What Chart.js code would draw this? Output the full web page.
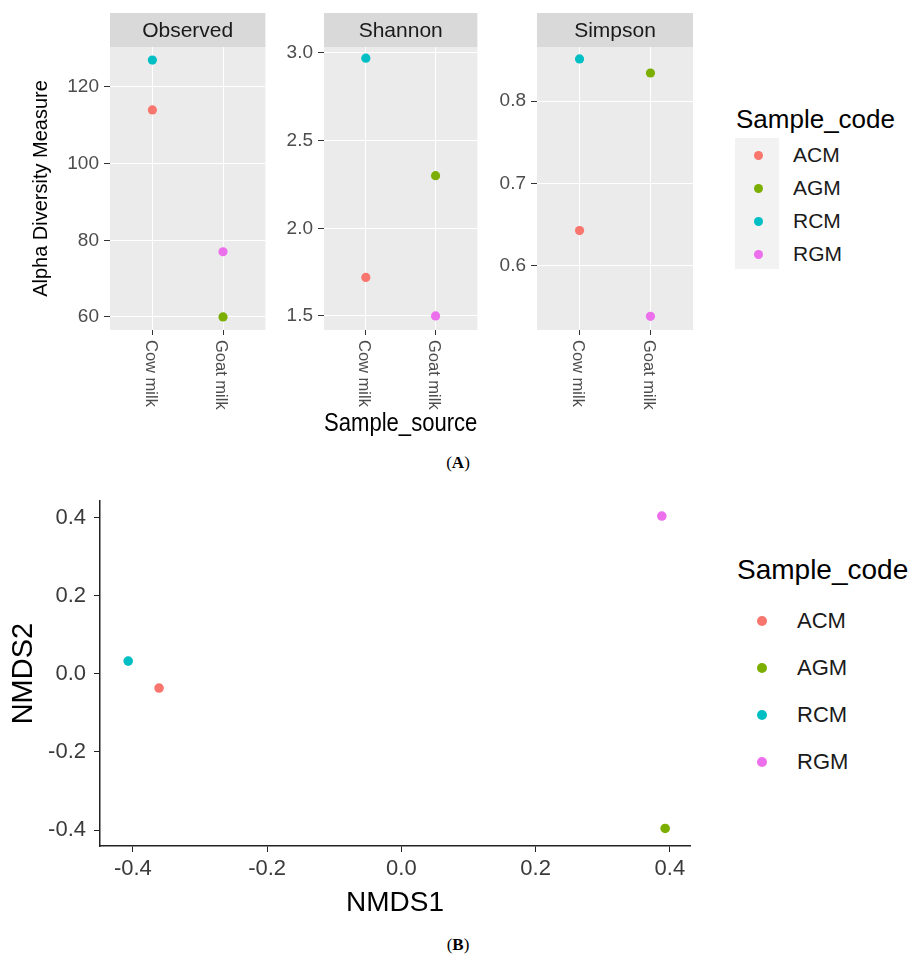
<!DOCTYPE html>
<html>
<head>
<meta charset="utf-8">
<script src="https://cdn.jsdelivr.net/npm/chart.js@4.4.1/dist/chart.umd.min.js"></script>
<style>
  body { margin: 0; background: #fff; font-family: "Liberation Sans", Arial, sans-serif; }
  #page { position: relative; width: 916px; height: 961px; overflow: hidden; }
  canvas { position: absolute; }
  .txt { position: absolute; white-space: nowrap; color: #1a1a1a; }
  .dot { position: absolute; border-radius: 50%; }
  .cap { position: absolute; font-family: "Liberation Serif", "Times New Roman", serif; font-size: 17px; color: #000; transform: translate(-50%, -50%); }
</style>
</head>
<body>
<div id="page">
  <canvas id="obsChart" width="270" height="440" style="left:0;top:0"></canvas>
  <canvas id="shaChart" width="212" height="440" style="left:270px;top:0"></canvas>
  <canvas id="simChart" width="218" height="440" style="left:482px;top:0"></canvas>
  <canvas id="nmdsChart" width="700" height="440" style="left:0;top:480px"></canvas>
  <div class="cap" style="left:458px;top:463px">(<b>A</b>)</div>
  <div class="cap" style="left:458px;top:945px">(<b>B</b>)</div>
</div>
<script>
// samples
const sampleCodes = ['ACM', 'AGM', 'RCM', 'RGM'];
const sampleSource = ['Cow milk', 'Goat milk', 'Cow milk', 'Goat milk'];
const sourceLabels = ['Cow milk', 'Goat milk'];
const codeColors = ['#F8766D', '#7CAE00', '#00BFC4', '#EC6FEC'];

// alpha diversity (A)
const observed = [114, 60, 127, 77];
const shannon = [1.72, 2.30, 2.97, 1.50];
const simpson = [0.643, 0.834, 0.851, 0.539];
const observedTicks = [60, 80, 100, 120];
const shannonTicks = [1.5, 2.0, 2.5, 3.0];
const simpsonTicks = [0.6, 0.7, 0.8];

// NMDS ordination (B)
const nmds1 = [-0.361, 0.393, -0.407, 0.388];
const nmds2 = [-0.036, -0.396, 0.033, 0.405];
const nmdsTicks = [-0.4, -0.2, 0.0, 0.2, 0.4];

const FONT = '"Liberation Sans", Arial, sans-serif';

// grey panel, strip on top, rotated category labels
const facetDecor = {
    id: 'facetDecor',
    beforeDraw(chart, args, opts) {
        const { ctx, chartArea: a } = chart;
        ctx.save();
        ctx.fillStyle = '#ebebeb';
        ctx.fillRect(a.left, a.top, a.right - a.left, a.bottom - a.top);
        ctx.fillStyle = '#d9d9d9';
        ctx.fillRect(a.left, a.top - 34, a.right - a.left, 34);
        ctx.fillStyle = '#1a1a1a';
        ctx.font = '21px ' + FONT;
        ctx.textAlign = 'center';
        ctx.textBaseline = 'middle';
        ctx.fillText(opts.text, (a.left + a.right) / 2, a.top - 16);
        ctx.restore();
    },
    afterDraw(chart) {
        const { ctx } = chart;
        const x = chart.scales.x;
        ctx.save();
        ctx.fillStyle = '#4d4d4d';
        ctx.font = '16.5px ' + FONT;
        ctx.textAlign = 'left';
        ctx.textBaseline = 'middle';
        sourceLabels.forEach((lab, i) => {
            ctx.save();
            ctx.translate(x.getPixelForValue(i + 1) - 2, x.top + 10);
            ctx.rotate(Math.PI / 2);
            ctx.fillText(lab, 0, 0);
            ctx.restore();
        });
        ctx.restore();
    }
};

const facetChart = (id, name, values, ticks, yMin, yMax, yWidth, padRight, decimals, yTitle, xTitle) => {
    return new Chart(document.getElementById(id), {
        type: 'scatter',
        data: {
            datasets: [{
                data: values.map((v, i) => ({ x: sourceLabels.indexOf(sampleSource[i]) + 1, y: v })),
                pointBackgroundColor: codeColors,
                pointBorderWidth: 0,
                pointRadius: 4.6
            }]
        },
        options: {
            responsive: false,
            animation: false,
            events: [],
            layout: { padding: { top: 47, right: padRight, left: 0, bottom: 0 } },
            plugins: {
                legend: { display: false },
                tooltip: { enabled: false },
                facetDecor: { text: name }
            },
            scales: {
                x: {
                    type: 'linear',
                    min: 0.4,
                    max: 2.6,
                    afterBuildTicks: s => { s.ticks = sourceLabels.map((_, i) => ({ value: i + 1 })); },
                    afterFit: s => { s.height = 110; },
                    ticks: { display: false },
                    grid: { color: '#ffffff', lineWidth: 1, tickColor: '#333333', tickLength: 5 },
                    border: { display: false },
                    title: {
                        display: !!xTitle,
                        text: xTitle || '',
                        color: '#000',
                        font: { family: FONT, size: 25 },
                        padding: { top: 0, bottom: 1 }
                    }
                },
                y: {
                    min: yMin,
                    max: yMax,
                    afterBuildTicks: s => { s.ticks = ticks.map(v => ({ value: v })); },
                    afterFit: s => { s.width = yWidth; },
                    ticks: {
                        color: '#4d4d4d',
                        font: { family: FONT, size: 19 },
                        padding: 5,
                        callback: v => v.toFixed(decimals)
                    },
                    grid: { color: '#ffffff', lineWidth: 1, tickColor: '#333333', tickLength: 6 },
                    border: { display: false },
                    title: {
                        display: !!yTitle,
                        text: yTitle || '',
                        color: '#000',
                        font: { family: FONT, size: 20 },
                        padding: { top: 29, bottom: 0 }
                    }
                }
            }
        },
        plugins: [facetDecor]
    });
};

facetChart('obsChart', 'Observed', observed, observedTicks, 56.6, 130.4, 110, 4, 0, 'Alpha Diversity Measure', null);
facetChart('shaChart', 'Shannon', shannon, shannonTicks, 1.42, 3.034, 54, 2, 1, null, 'Sample_source');
facetChart('simChart', 'Simpson', simpson, simpsonTicks, 0.5224, 0.8655, 55, 7, 1, null, null);

// NMDS scatter
new Chart(document.getElementById('nmdsChart'), {
    type: 'scatter',
    data: {
        datasets: [{
            data: nmds1.map((v, i) => ({ x: v, y: nmds2[i] })),
            pointBackgroundColor: codeColors,
            pointBorderWidth: 0,
            pointRadius: 4.8
        }]
    },
    options: {
        responsive: false,
        animation: false,
        events: [],
        layout: { padding: { top: 13, right: 10, left: 0, bottom: 0 } },
        plugins: { legend: { display: false }, tooltip: { enabled: false } },
        scales: {
            x: {
                min: -0.449,
                max: 0.43,
                afterBuildTicks: s => { s.ticks = nmdsTicks.map(v => ({ value: v })); },
                afterFit: s => { s.height = 74; },
                ticks: {
                    color: '#3a3a3a',
                    font: { family: FONT, size: 22 },
                    padding: 4,
                    maxRotation: 0,
                    callback: v => v.toFixed(1)
                },
                grid: { drawOnChartArea: false, tickColor: '#222', tickLength: 6 },
                border: { display: true, color: '#222', width: 1.5 },
                title: {
                    display: true,
                    text: 'NMDS1',
                    color: '#000',
                    font: { family: FONT, size: 28 },
                    padding: { top: 0, bottom: 0 }
                }
            },
            y: {
                min: -0.441,
                max: 0.443,
                afterBuildTicks: s => { s.ticks = nmdsTicks.map(v => ({ value: v })); },
                afterFit: s => { s.width = 100; },
                ticks: {
                    color: '#3a3a3a',
                    font: { family: FONT, size: 22 },
                    padding: 8,
                    callback: v => v.toFixed(1)
                },
                grid: { drawOnChartArea: false, tickColor: '#222', tickLength: 6 },
                border: { display: true, color: '#222', width: 1.5 },
                title: {
                    display: true,
                    text: 'NMDS2',
                    color: '#000',
                    font: { family: FONT, size: 29 },
                    padding: { top: 7, bottom: 0 }
                }
            }
        }
    }
});

// legends built from the sample arrays
const page = document.getElementById('page');
const addLegend = (left, top, titleSize, labelSize, step, dotSize, keyBg) => {
    const title = document.createElement('div');
    title.className = 'txt';
    title.textContent = 'Sample_code';
    title.style.cssText = `left:${left}px;top:${top}px;font-size:${titleSize}px;transform:translateY(-50%);color:#000`;
    page.appendChild(title);
    const firstY = top + (keyBg ? 36 : 51);
    if (keyBg) {
        const box = document.createElement('div');
        box.style.cssText = `position:absolute;left:${left - 1}px;top:${firstY - 17}px;width:44px;height:${step * sampleCodes.length - 1}px;background:${keyBg}`;
        page.appendChild(box);
    }
    sampleCodes.forEach((code, i) => {
        const y = firstY + i * step;
        const dot = document.createElement('div');
        dot.className = 'dot';
        dot.style.cssText = `left:${left + (keyBg ? 22 : 25) - dotSize / 2}px;top:${y - dotSize / 2}px;width:${dotSize}px;height:${dotSize}px;background:${codeColors[i]}`;
        page.appendChild(dot);
        const lab = document.createElement('div');
        lab.className = 'txt';
        lab.textContent = code;
        lab.style.cssText = `left:${left + (keyBg ? 57 : 60)}px;top:${y}px;font-size:${labelSize}px;transform:translateY(-50%)`;
        page.appendChild(lab);
    });
};
addLegend(736, 119, 26, 21, 33, 9, '#f2f2f2');
addLegend(737, 570, 28, 22, 47, 10, null);
</script>
</body>
</html>
